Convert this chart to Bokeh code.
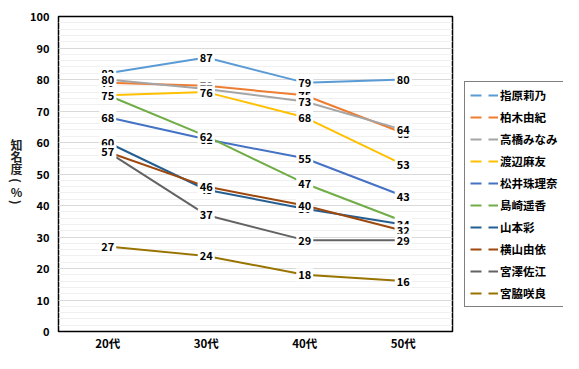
import math
from bokeh.plotting import figure
from bokeh.layouts import row
from bokeh.models import (FactorRange, Range1d, SingleIntervalTicker, Legend, LegendItem,
                          ColumnDataSource)
from bokeh.core.properties import value
from bokeh.embed import file_html
from bokeh.resources import INLINE

ages = ["20代", "30代", "40代", "50代"]
names = ["指原莉乃", "柏木由紀", "高橋みなみ", "渡辺麻友", "松井珠理奈",
         "島崎遥香", "山本彩", "横山由依", "宮澤佐江", "宮脇咲良"]
sashihara = [82, 87, 79, 80]
kashiwagi = [79, 78, 75, 63]
takahashi = [80, 77, 73, 64]
watanabe = [75, 76, 68, 53]
matsui = [68, 61, 55, 43]
shimazaki = [75, 62, 47, 35]
yamamoto = [60, 45, 39, 34]
yokoyama = [57, 46, 40, 32]
miyazawa = [57, 37, 29, 29]
miyawaki = [27, 24, 18, 16]
series = [sashihara, kashiwagi, takahashi, watanabe, matsui,
          shimazaki, yamamoto, yokoyama, miyazawa, miyawaki]
colors = ["#5B9BD5", "#ED7D31", "#A5A5A5", "#FFC000", "#4472C4",
          "#70AD47", "#255E91", "#9E480E", "#636363", "#997300"]
y_title_chars = ["知", "名", "度", "(", "%", ")"]

FONT = "Noto Sans CJK JP"
H = 353
TOP = 16
BOTTOM_BORDER = 20

# ---- y-axis title column (frame aligned with main frame; pixel coords, top-down) ----
tf = figure(width=24, height=H, x_range=Range1d(0, 24), y_range=Range1d(H - BOTTOM_BORDER, TOP),
            output_backend="svg", toolbar_location=None,
            x_axis_location=None, y_axis_location=None,
            min_border_left=0, min_border_right=0, min_border_top=TOP,
            min_border_bottom=BOTTOM_BORDER)
tf.grid.grid_line_color = None
tf.outline_line_color = None
tf.border_fill_color = "white"
tf.background_fill_color = "white"
title_y = [145, 157, 169, 181, 192, 203]
title_angle = [0, 0, 0, -math.pi / 2, 0, -math.pi / 2]
tf.text(x=[16] * len(y_title_chars), y=title_y, text=y_title_chars, angle=title_angle,
        text_align="center", text_baseline="middle",
        text_font=value(FONT), text_font_style="bold", text_font_size="12px",
        text_color="#222222")

# ---- main chart ----
p = figure(width=432, height=H, x_range=FactorRange(*ages), y_range=Range1d(0, 100),
           output_backend="svg", toolbar_location=None,
           min_border_left=34, min_border_right=4, min_border_top=TOP,
           min_border_bottom=BOTTOM_BORDER)

p.outline_line_color = "black"
p.outline_line_width = 1.5
p.background_fill_color = "white"
p.border_fill_color = "white"

p.yaxis.ticker = SingleIntervalTicker(interval=10, num_minor_ticks=5)
p.ygrid.ticker = SingleIntervalTicker(interval=10, num_minor_ticks=5)
p.ygrid.grid_line_color = "#d9d9d9"
p.ygrid.grid_line_width = 1
p.ygrid.minor_grid_line_color = "#f0f0f0"
p.ygrid.minor_grid_line_width = 1
p.xgrid.grid_line_color = None

for ax in (p.xaxis[0], p.yaxis[0]):
    ax.axis_line_color = None
    ax.major_tick_line_color = None
    ax.minor_tick_line_color = None
    ax.major_tick_in = 0
    ax.major_tick_out = 0
    ax.minor_tick_in = 0
    ax.minor_tick_out = 0
    ax.major_label_text_font = FONT
    ax.major_label_text_font_style = "bold"
    ax.major_label_text_color = "black"

p.yaxis.major_label_text_font_size = "11px"
p.yaxis.major_label_standoff = 9
p.xaxis.major_label_text_font_size = "11.5px"
p.xaxis.major_label_standoff = 3

for vals, c in zip(series, colors):
    p.line(x=ages, y=vals, line_color=c, line_width=2)

for vals in series:
    src = ColumnDataSource(dict(x=ages, y=vals, t=[str(v) for v in vals]))
    p.text(x="x", y="y", text="t", source=src, text_align="center", text_baseline="middle",
           text_font=value(FONT), text_font_style="bold", text_font_size="11px",
           text_color="black", background_fill_color="white", padding=2)

# ---- legend column ----
lg = figure(width=107, height=H, x_range=(0, 1), y_range=(0, 1),
            output_backend="svg", toolbar_location=None,
            x_axis_location=None, y_axis_location=None,
            min_border_left=0, min_border_right=0, min_border_top=0, min_border_bottom=0)
lg.grid.grid_line_color = None
lg.outline_line_color = None
lg.border_fill_color = "white"
lg.background_fill_color = "white"

items = []
for n, c in zip(names, colors):
    r = lg.line(x=[5, 6], y=[5, 5], line_color=c, line_width=2, line_dash="11 7")
    items.append(LegendItem(label=n, renderers=[r]))

legend = Legend(items=items, location=(8, 24), orientation="vertical",
                glyph_width=28, glyph_height=16, label_height=16, label_standoff=2,
                spacing=6, padding=5, margin=0,
                label_text_font=FONT, label_text_font_style="bold",
                label_text_font_size="11.5px", label_text_color="black",
                border_line_color="black", border_line_width=1.5,
                background_fill_color="white", background_fill_alpha=1.0)
lg.add_layout(legend, "center")

layout = row(tf, p, lg)
open("out.html", "w").write(file_html(layout, INLINE))
